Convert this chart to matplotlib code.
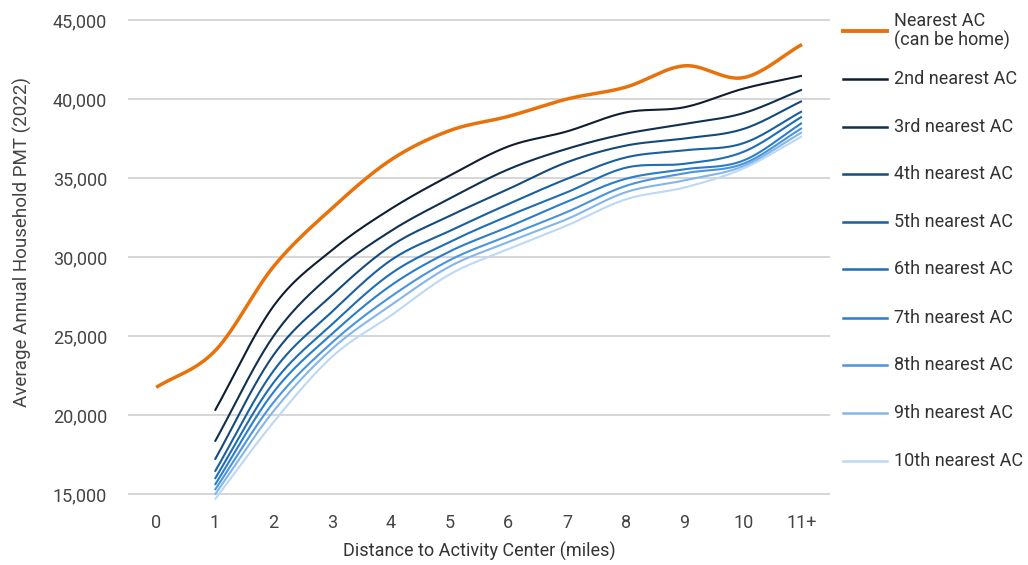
import numpy as np
import matplotlib
matplotlib.use("Agg")
import matplotlib.pyplot as plt
from matplotlib.lines import Line2D
from matplotlib.ticker import FuncFormatter

plt.rcParams["font.family"] = ["Roboto", "DejaVu Sans"]

x_labels = ["0", "1", "2", "3", "4", "5", "6", "7", "8", "9", "10", "11+"]
series_names = [
    "Nearest AC\n(can be home)",
    "2nd nearest AC",
    "3rd nearest AC",
    "4th nearest AC",
    "5th nearest AC",
    "6th nearest AC",
    "7th nearest AC",
    "8th nearest AC",
    "9th nearest AC",
    "10th nearest AC",
]

nan = np.nan
nearest = [21750, 24050, 29400, 33100, 36150, 38000, 38900, 40000, 40750, 42100, 41350, 43450]
second = [nan, 20270, 26900, 30450, 33050, 35150, 37000, 37950, 39150, 39480, 40650, 41470]
third = [nan, 18310, 25000, 28950, 31650, 33700, 35550, 36850, 37800, 38420, 39100, 40590]
fourth = [nan, 17170, 23800, 27600, 30700, 32600, 34300, 36000, 37050, 37500, 38100, 39870]
fifth = [nan, 16410, 22800, 26550, 29800, 31650, 33350, 34950, 36300, 36750, 37200, 39220]
sixth = [nan, 15950, 22050, 25750, 28950, 30950, 32600, 34100, 35650, 35900, 36650, 38880]
seventh = [nan, 15570, 21450, 25150, 28200, 30350, 31900, 33500, 34950, 35550, 36100, 38480]
eighth = [nan, 15250, 20800, 24600, 27500, 29800, 31350, 32850, 34500, 35300, 35900, 38160]
ninth = [nan, 14950, 20250, 24200, 26950, 29400, 30950, 32400, 34100, 34850, 35750, 37890]
tenth = [nan, 14650, 19550, 23700, 26300, 28900, 30500, 32000, 33650, 34400, 35600, 37640]

all_series = [nearest, second, third, fourth, fifth, sixth, seventh, eighth, ninth, tenth]
colors = ["#e8710a", "#0f1e30", "#10304f", "#144a7c", "#1a5f9e", "#1e6db5",
          "#2a7dcc", "#4a93de", "#82b6ec", "#bcd8f4"]
widths = [2.5, 1.5, 1.5, 1.5, 1.5, 1.5, 1.5, 1.5, 1.5, 1.5]


def smooth(xs, ys, steps=40):
    # Catmull-Rom curve through the points (rendering only)
    xs = np.asarray(xs, float)
    ys = np.asarray(ys, float)
    px = np.concatenate([[2 * xs[0] - xs[1]], xs, [2 * xs[-1] - xs[-2]]])
    py = np.concatenate([[2 * ys[0] - ys[1]], ys, [2 * ys[-1] - ys[-2]]])
    out_x, out_y = [], []
    t = np.linspace(0, 1, steps)
    for i in range(1, len(px) - 2):
        for p, out in ((px, out_x), (py, out_y)):
            p0, p1, p2, p3 = p[i - 1], p[i], p[i + 1], p[i + 2]
            out.extend(0.5 * (2 * p1 + (-p0 + p2) * t
                              + (2 * p0 - 5 * p1 + 4 * p2 - p3) * t ** 2
                              + (-p0 + 3 * p1 - 3 * p2 + p3) * t ** 3))
    return np.array(out_x), np.array(out_y)


fig = plt.figure(figsize=(10.28, 5.65), dpi=100)
ax = fig.add_axes([0.1245, 0.1061, 0.683, 0.8669])

x_pos = np.arange(len(x_labels))
for vals, color, lw in reversed(list(zip(all_series, colors, widths))):
    vals = np.asarray(vals, float)
    mask = ~np.isnan(vals)
    sx, sy = smooth(x_pos[mask], vals[mask])
    ax.plot(sx, sy, color=color, lw=lw, solid_capstyle="butt", zorder=3)

ax.set_xlim(-0.48, 11.48)
ax.set_ylim(14300, 45300)
ax.set_yticks(np.arange(15000, 45001, 5000))
ax.yaxis.set_major_formatter(FuncFormatter(lambda v, p: f"{int(v):,}"))
ax.set_xticks(x_pos)
ax.set_xticklabels(x_labels)
ax.yaxis.grid(True, color="#cfcfcf", lw=1.2)
ax.set_axisbelow(True)
for s in ax.spines.values():
    s.set_visible(False)
ax.tick_params(axis="y", length=0, pad=15, labelsize=13, labelcolor="#444444")
ax.tick_params(axis="x", length=0, pad=6.5, labelsize=13, labelcolor="#444444")

ax.set_xlabel("Distance to Activity Center (miles)", fontsize=13, color="#333333")
ax.xaxis.set_label_coords(0.501, -0.076)
ax.set_ylabel("Average Annual Household PMT (2022)", fontsize=13.5, color="#444444")
ax.yaxis.set_label_coords(-0.137, 0.538)

# legend drawn on the right
W, H = 1028, 565
leg_y = [31, 79, 127, 174, 222, 269, 318, 365, 413, 461]
for name, color, lw, yy in zip(series_names, colors, widths, leg_y):
    fy = 1 - yy / H
    fig.add_artist(Line2D([843 / W, 887 / W], [fy, fy], color=color, lw=lw + 0.3,
                          transform=fig.transFigure))
    fig.text(894 / W, fy, name, fontsize=13, color="#333333", va="center",
             ha="left", linespacing=1.12)

fig.savefig("out.png", dpi=100)
